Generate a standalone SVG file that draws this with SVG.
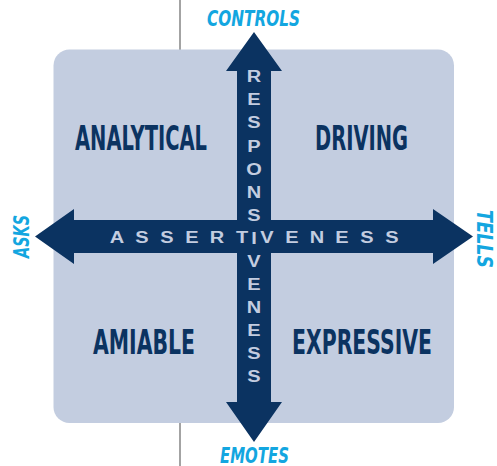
<svg xmlns="http://www.w3.org/2000/svg" width="497" height="466" viewBox="0 0 497 466">
<style>
.q{font-family:"DejaVu Sans Condensed","DejaVu Sans","Liberation Sans",sans-serif;font-weight:bold;font-size:34px;fill:#0b3361;}
.c{font-family:"DejaVu Sans Condensed","DejaVu Sans","Liberation Sans",sans-serif;font-style:italic;font-weight:600;font-size:21px;fill:#13a6e0;}
.l{font-family:"Liberation Sans","DejaVu Sans",sans-serif;font-weight:bold;font-size:16px;fill:#c3cde0;text-anchor:middle;}
.arr{fill:#0b3361;}
</style>
<line x1="180" y1="0" x2="180" y2="466" stroke="#8c8c8c" stroke-width="1.6"/>
<rect x="53.5" y="49.5" width="400.5" height="373.5" rx="16" fill="#c3cde0"/>
<g id="connectors">
<polygon class="arr" points="35,236.5 74,209 74,220 433,220 433,209 473,236.5 433,264 433,253 74,253 74,264"/>
<polygon class="arr" points="254,32 282,71 271,71 271,402 282,402 254,442 226,402 237,402 237,71 226,71"/>
</g>
<g id="assertiveness">
<text class="l" transform="translate(117,243.3) scale(1.25,1)">A</text>
<text class="l" transform="translate(142,243.3) scale(1.25,1)">S</text>
<text class="l" transform="translate(167,243.3) scale(1.25,1)">S</text>
<text class="l" transform="translate(192,243.3) scale(1.25,1)">E</text>
<text class="l" transform="translate(217,243.3) scale(1.25,1)">R</text>
<text class="l" transform="translate(242,243.3) scale(1.25,1)">T</text>
<text class="l" transform="translate(267,243.3) scale(1.25,1)">V</text>
<text class="l" transform="translate(292,243.3) scale(1.25,1)">E</text>
<text class="l" transform="translate(317,243.3) scale(1.25,1)">N</text>
<text class="l" transform="translate(342,243.3) scale(1.25,1)">E</text>
<text class="l" transform="translate(367,243.3) scale(1.25,1)">S</text>
<text class="l" transform="translate(392,243.3) scale(1.25,1)">S</text>
</g>
<g id="responsiveness">
<text class="l" transform="translate(254,82.3) scale(1.25,1)">R</text>
<text class="l" transform="translate(254,105.4) scale(1.25,1)">E</text>
<text class="l" transform="translate(254,128.4) scale(1.25,1)">S</text>
<text class="l" transform="translate(254,151.5) scale(1.25,1)">P</text>
<text class="l" transform="translate(254,174.5) scale(1.25,1)">O</text>
<text class="l" transform="translate(254,197.6) scale(1.25,1)">N</text>
<text class="l" transform="translate(254,220.6) scale(1.25,1)">S</text>
<text class="l" transform="translate(254,243.5) scale(1.25,1)">I</text>
<text class="l" transform="translate(254,266.7) scale(1.25,1)">V</text>
<text class="l" transform="translate(254,289.8) scale(1.25,1)">E</text>
<text class="l" transform="translate(254,312.8) scale(1.25,1)">N</text>
<text class="l" transform="translate(254,335.9) scale(1.25,1)">E</text>
<text class="l" transform="translate(254,358.9) scale(1.25,1)">S</text>
<text class="l" transform="translate(254,382) scale(1.25,1)">S</text>
</g>
<g id="analytical"><text class="q" x="75" y="150" textLength="132" lengthAdjust="spacingAndGlyphs">ANALYTICAL</text></g>
<g id="driving"><text class="q" x="315" y="150" textLength="93" lengthAdjust="spacingAndGlyphs">DRIVING</text></g>
<g id="amiable"><text class="q" x="93" y="354" textLength="102" lengthAdjust="spacingAndGlyphs">AMIABLE</text></g>
<g id="expressive"><text class="q" x="292" y="354" textLength="140" lengthAdjust="spacingAndGlyphs">EXPRESSIVE</text></g>
<g id="controls"><text class="c" x="207" y="26" textLength="93" lengthAdjust="spacingAndGlyphs">CONTROLS</text></g>
<g id="emotes"><text class="c" x="220" y="463" textLength="69" lengthAdjust="spacingAndGlyphs">EMOTES</text></g>
<g id="asks"><text class="c" transform="translate(29,258) rotate(-90)" x="0" y="0" textLength="43" lengthAdjust="spacingAndGlyphs">ASKS</text></g>
<g id="tells"><text class="c" transform="translate(477,210) rotate(90)" x="0" y="0" textLength="58" lengthAdjust="spacingAndGlyphs">TELLS</text></g>
</svg>
